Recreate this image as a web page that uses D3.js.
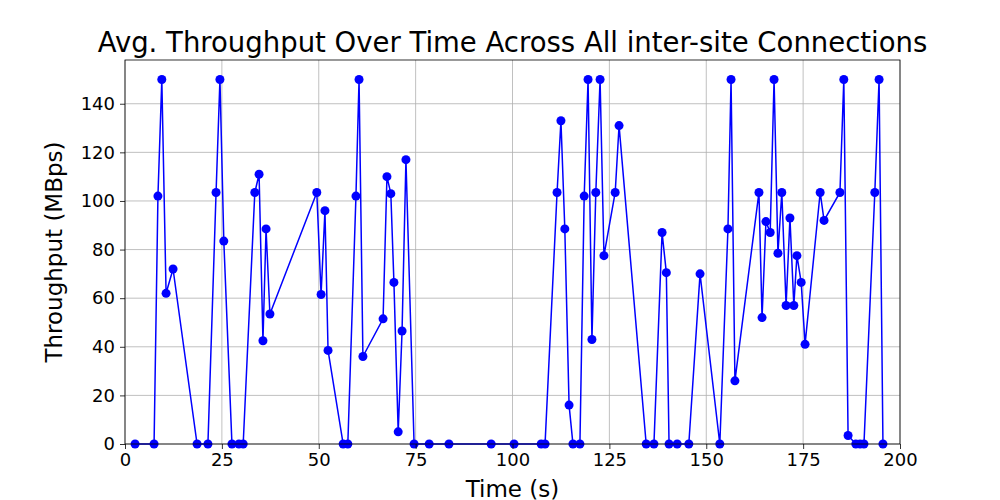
<!DOCTYPE html>
<html>
<head>
<meta charset="utf-8">
<script src="https://cdn.jsdelivr.net/npm/d3@7"></script>
<style>
  body { margin: 0; background: #fff; }
  text { font-family: "DejaVu Sans", sans-serif; }
</style>
</head>
<body>
<svg id="chart" width="1000" height="500"></svg>
<script>
// time (s) and throughput (MBps)
var times = [2.6, 7.5, 8.5, 9.5, 10.6, 12.4, 18.6, 21.4, 23.5, 24.5, 25.5, 27.6, 29.4, 30.5,
  33.5, 34.6, 35.6, 36.4, 37.4, 49.5, 50.6, 51.6, 52.4, 56.3, 57.5, 59.6, 60.4, 61.4,
  66.6, 67.6, 68.6, 69.4, 70.5, 71.5, 72.5, 74.6, 78.5, 83.6, 94.5, 100.4, 107.4, 108.4,
  111.5, 112.5, 113.5, 114.6, 115.6, 117.4, 118.5, 119.5, 120.5, 121.5, 122.6, 123.6,
  126.5, 127.5, 134.5, 136.5, 138.6, 139.7, 140.4, 142.5, 145.5, 148.4, 153.5, 155.6,
  156.4, 157.4, 163.6, 164.4, 165.4, 166.5, 167.5, 168.5, 169.5, 170.6, 171.6, 172.6,
  173.4, 174.5, 175.5, 179.4, 180.4, 184.5, 185.5, 186.6, 188.6, 189.7, 190.7, 193.5,
  194.6, 195.6];
var throughput = [0, 0, 102, 150, 62, 72, 0, 0, 103.5, 150, 83.5, 0, 0, 0,
  103.5, 111, 42.5, 88.5, 53.5, 103.5, 61.5, 96, 38.5, 0, 0, 102, 150, 36,
  51.5, 110, 103, 66.5, 5, 46.5, 117, 0, 0, 0, 0, 0, 0, 0,
  103.5, 133, 88.5, 16, 0, 0, 102, 150, 43, 103.5, 150, 77.5,
  103.5, 131, 0, 0, 87, 70.5, 0, 0, 0, 70, 0, 88.5,
  150, 26, 103.5, 52, 91.5, 87, 150, 78.5, 103.5, 57, 93, 57,
  77.5, 66.5, 41, 103.5, 92, 103.5, 150, 3.5, 0, 0, 0, 103.5,
  150, 0];
var xTicks = [0, 25, 50, 75, 100, 125, 150, 175, 200];
var yTicks = [0, 20, 40, 60, 80, 100, 120, 140];

var svg = d3.select("#chart");
var mLeft = 125, mRight = 900, mTop = 60, mBottom = 444;

var x = d3.scaleLinear().domain([0, 200]).range([mLeft, mRight]);
var y = d3.scaleLinear().domain([0, 158]).range([mBottom, mTop]);

// grid
svg.append("g").selectAll("line").data(xTicks).enter().append("line")
  .attr("x1", d => x(d)).attr("x2", d => x(d)).attr("y1", mTop).attr("y2", mBottom)
  .attr("stroke", "#b0b0b0").attr("stroke-width", 0.8);
svg.append("g").selectAll("line").data(yTicks).enter().append("line")
  .attr("x1", mLeft).attr("x2", mRight).attr("y1", d => y(d)).attr("y2", d => y(d))
  .attr("stroke", "#b0b0b0").attr("stroke-width", 0.8);

var pts = times.map((t, i) => [t, throughput[i]]);

svg.append("path").datum(pts)
  .attr("fill", "none").attr("stroke", "#0000ff").attr("stroke-width", 1.5)
  .attr("d", d3.line().x(d => x(d[0])).y(d => y(d[1])));

svg.append("g").selectAll("circle").data(pts).enter().append("circle")
  .attr("cx", d => x(d[0])).attr("cy", d => y(d[1])).attr("r", 4.5)
  .attr("fill", "#0000ff");

// frame
svg.append("rect").attr("x", mLeft).attr("y", mTop)
  .attr("width", mRight - mLeft).attr("height", mBottom - mTop)
  .attr("fill", "none").attr("stroke", "#000").attr("stroke-width", 0.8);

var xAxis = svg.append("g").attr("transform", "translate(0," + mBottom + ")")
  .call(d3.axisBottom(x).tickValues(xTicks).tickSize(5).tickPadding(4));
var yAxis = svg.append("g").attr("transform", "translate(" + mLeft + ",0)")
  .call(d3.axisLeft(y).tickValues(yTicks).tickSize(5).tickPadding(5));
[xAxis, yAxis].forEach(a => {
  a.select(".domain").remove();
  a.selectAll("text").attr("font-size", 18).attr("font-family", "DejaVu Sans").attr("fill", "#000");
  a.selectAll("line").attr("stroke", "#000").attr("stroke-width", 0.8);
});

svg.append("text").attr("x", (mLeft + mRight) / 2).attr("y", 52)
  .attr("text-anchor", "middle").attr("font-size", 27.5).text("Avg. Throughput Over Time Across All inter-site Connections");
svg.append("text").attr("x", (mLeft + mRight) / 2).attr("y", 497)
  .attr("text-anchor", "middle").attr("font-size", 23).text("Time (s)");
svg.append("text").attr("transform", "translate(62," + ((mTop + mBottom) / 2) + ") rotate(-90)")
  .attr("text-anchor", "middle").attr("font-size", 23).text("Throughput (MBps)");
</script>
</body>
</html>
